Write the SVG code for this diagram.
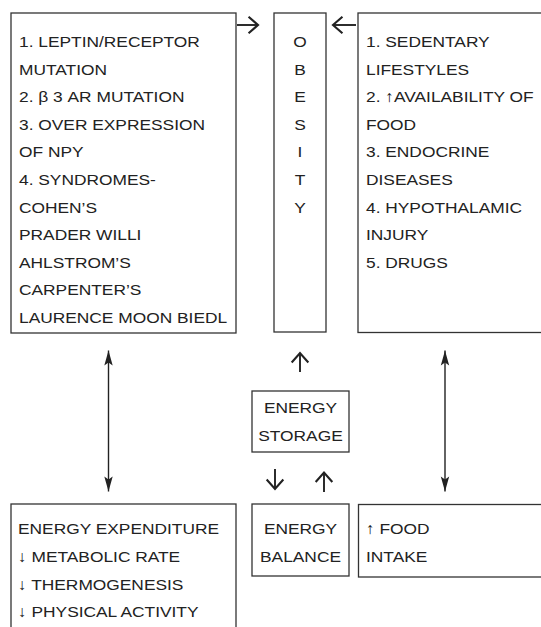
<svg xmlns="http://www.w3.org/2000/svg" width="541" height="627" viewBox="0 0 541 627">
<style>
.box{fill:#fff;stroke:#333;stroke-width:1.3}
.t{font-family:"Liberation Sans",Arial,sans-serif;font-size:15.5px;fill:#222}
.m{text-anchor:middle}
.conn{stroke:#222;stroke-width:1.4;fill:none}
.sm{stroke:#222;stroke-width:1.9;fill:none}
</style>
<defs>
<marker id="tri" markerUnits="userSpaceOnUse" markerWidth="20" markerHeight="12" viewBox="-16 -6 17 12" refX="0" refY="0" orient="auto-start-reverse">
<path d="M0,0 L-15,-4.2 L-12,0 L-15,4.2 Z" fill="#222"/>
</marker>
<marker id="chev" markerUnits="userSpaceOnUse" markerWidth="14" markerHeight="20" viewBox="-10 -9 12 18" refX="0" refY="0" orient="auto">
<path d="M-8.5,-7.5 L0,0 L-8.5,7.5" stroke="#222" stroke-width="1.9" fill="none"/>
</marker>
</defs>
<rect width="541" height="627" fill="#fff"/>

<g id="genetic">
<rect class="box" x="11" y="13" width="225" height="320"/>
<text class="t" transform="translate(19,47) scale(1.12,1)">1. LEPTIN/RECEPTOR</text>
<text class="t" transform="translate(19,74.6) scale(1.12,1)">MUTATION</text>
<text class="t" transform="translate(19,102.2) scale(1.12,1)">2. β 3 AR MUTATION</text>
<text class="t" transform="translate(19,129.8) scale(1.12,1)">3. OVER EXPRESSION</text>
<text class="t" transform="translate(19,157.4) scale(1.12,1)">OF NPY</text>
<text class="t" transform="translate(19,185) scale(1.12,1)">4. SYNDROMES-</text>
<text class="t" transform="translate(19,212.6) scale(1.12,1)">COHEN’S</text>
<text class="t" transform="translate(19,240.2) scale(1.12,1)">PRADER WILLI</text>
<text class="t" transform="translate(19,267.8) scale(1.12,1)">AHLSTROM’S</text>
<text class="t" transform="translate(19,295.4) scale(1.12,1)">CARPENTER’S</text>
<text class="t" transform="translate(19,323) scale(1.12,1)">LAURENCE MOON BIEDL</text>
</g>

<g id="obesity">
<rect class="box" x="274" y="13" width="52" height="319"/>
<text class="t m" transform="translate(300,47) scale(1.12,1)">O</text>
<text class="t m" transform="translate(300,74.6) scale(1.12,1)">B</text>
<text class="t m" transform="translate(300,102.2) scale(1.12,1)">E</text>
<text class="t m" transform="translate(300,129.8) scale(1.12,1)">S</text>
<text class="t m" transform="translate(300,157.4) scale(1.12,1)">I</text>
<text class="t m" transform="translate(300,185) scale(1.12,1)">T</text>
<text class="t m" transform="translate(300,212.6) scale(1.12,1)">Y</text>
</g>

<g id="environmental">
<rect class="box" x="358" y="13" width="190" height="319.5"/>
<text class="t" transform="translate(366,47) scale(1.12,1)">1. SEDENTARY</text>
<text class="t" transform="translate(366,74.6) scale(1.12,1)">LIFESTYLES</text>
<text class="t" transform="translate(366,102.2) scale(1.12,1)">2. ↑AVAILABILITY OF</text>
<text class="t" transform="translate(366,129.8) scale(1.12,1)">FOOD</text>
<text class="t" transform="translate(366,157.4) scale(1.12,1)">3. ENDOCRINE</text>
<text class="t" transform="translate(366,185) scale(1.12,1)">DISEASES</text>
<text class="t" transform="translate(366,212.6) scale(1.12,1)">4. HYPOTHALAMIC</text>
<text class="t" transform="translate(366,240.2) scale(1.12,1)">INJURY</text>
<text class="t" transform="translate(366,267.8) scale(1.12,1)">5. DRUGS</text>
</g>

<g id="storage">
<rect class="box" x="252" y="391" width="97" height="61"/>
<text class="t m" transform="translate(300.5,413) scale(1.12,1)">ENERGY</text>
<text class="t m" transform="translate(300.5,440.5) scale(1.12,1)">STORAGE</text>
</g>

<g id="expenditure">
<rect class="box" x="11" y="504" width="225" height="140"/>
<text class="t" transform="translate(18,534) scale(1.12,1)">ENERGY EXPENDITURE</text>
<text class="t" transform="translate(18,561.7) scale(1.12,1)">↓ METABOLIC RATE</text>
<text class="t" transform="translate(18,589.5) scale(1.12,1)">↓ THERMOGENESIS</text>
<text class="t" transform="translate(18,617) scale(1.12,1)">↓ PHYSICAL ACTIVITY</text>
</g>

<g id="balance">
<rect class="box" x="252" y="504" width="97" height="72"/>
<text class="t m" transform="translate(300.5,534) scale(1.12,1)">ENERGY</text>
<text class="t m" transform="translate(300.5,561.7) scale(1.12,1)">BALANCE</text>
</g>

<g id="intake">
<rect class="box" x="358.5" y="504.5" width="190" height="72.5"/>
<text class="t" transform="translate(366,534) scale(1.12,1)">↑ FOOD</text>
<text class="t" transform="translate(366,561.7) scale(1.12,1)">INTAKE</text>
</g>

<g id="connectors">
<line class="conn" x1="108.5" y1="350.5" x2="108.5" y2="491.5" marker-start="url(#tri)" marker-end="url(#tri)"/>
<line class="conn" x1="445" y1="350.5" x2="445" y2="491.5" marker-start="url(#tri)" marker-end="url(#tri)"/>
<line class="sm" x1="237" y1="25" x2="258" y2="25" marker-end="url(#chev)"/>
<line class="sm" x1="356" y1="25" x2="333" y2="25" marker-end="url(#chev)"/>
<line class="sm" x1="300" y1="372" x2="300" y2="353" marker-end="url(#chev)"/>
<line class="sm" x1="275" y1="469" x2="275" y2="489" marker-end="url(#chev)"/>
<line class="sm" x1="324" y1="492" x2="324" y2="472.5" marker-end="url(#chev)"/>
</g>
</svg>
